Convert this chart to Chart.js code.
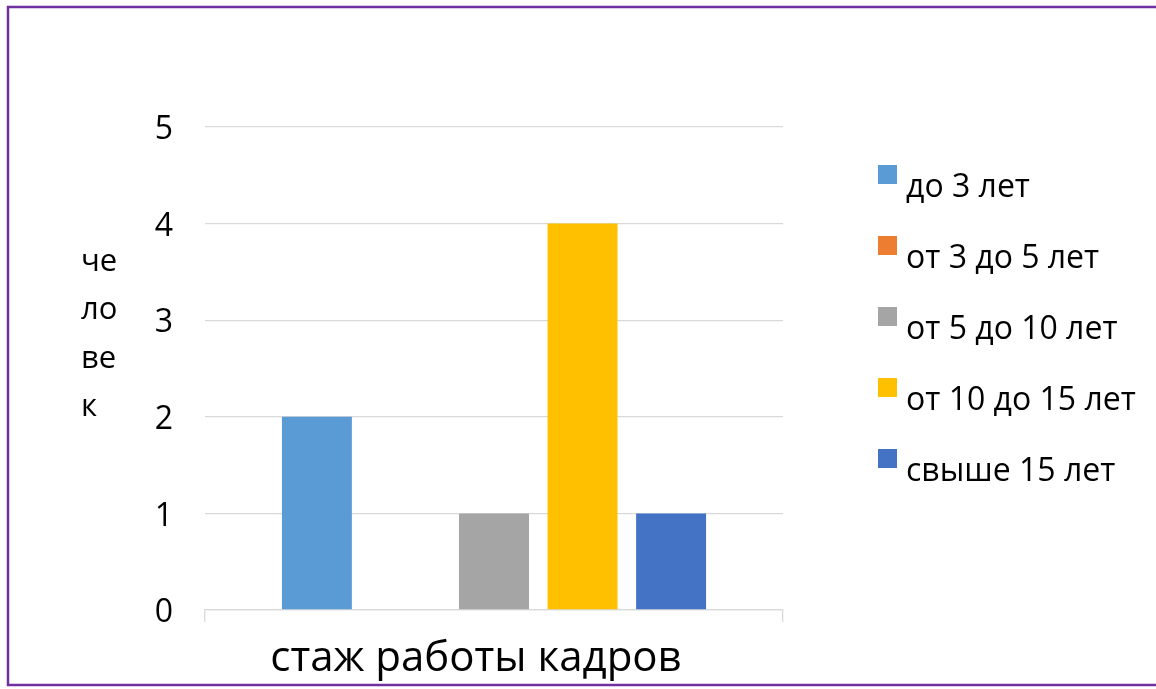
<!DOCTYPE html>
<html>
<head>
<meta charset="utf-8">
<script src="https://cdn.jsdelivr.net/npm/chart.js@4"></script>
<style>
  html, body { margin: 0; padding: 0; background: #fff; }
  #wrap { width: 1156px; height: 689px; position: relative; }
</style>
</head>
<body>
<div id="wrap"><canvas id="stazhChart" width="1156" height="689"></canvas></div>
<script>
// --- data ---
const categories = ["стаж работы кадров"];
const seriesNames = ["до 3 лет", "от 3 до 5 лет", "от 5 до 10 лет", "от 10 до 15 лет", "свыше 15 лет"];
const seriesValues = [2, 0, 1, 4, 1];
const seriesColors = ["#5B9BD5", "#ED7D31", "#A5A5A5", "#FFC000", "#4472C4"];
const yTicks = [0, 1, 2, 3, 4, 5];
const yTitleLines = ["че", "ло", "ве", "к"];

const FONT = "'Open Sans', 'Noto Sans', sans-serif";

// frame around the whole picture + stacked y title + legend on the right
const decorPlugin = {
    id: "decor",
    afterDraw(chart) {
        const ctx = chart.ctx;
        ctx.save();
        // purple frame (right side runs off the picture)
        ctx.strokeStyle = "#7030A0";
        ctx.lineWidth = 2.5;
        ctx.strokeRect(8, 7, 1160, 678);

        // y title, one syllable per line
        ctx.fillStyle = "#000";
        ctx.font = "31px " + FONT;
        ctx.textBaseline = "middle";
        ctx.textAlign = "left";
        yTitleLines.forEach((t, i) => {
            ctx.fillText(t, 81, 262 + i * 48.5);
        });

        // legend
        ctx.font = "32px " + FONT;
        chart.data.datasets.forEach((ds, i) => {
            const y = 188 + i * 71;
            ctx.fillStyle = ds.backgroundColor;
            ctx.fillRect(878, y - 23, 19, 19);
            ctx.fillStyle = "#000";
            ctx.fillText(ds.label, 906, y);
        });
        ctx.restore();
    }
};

const ctx = document.getElementById("stazhChart");

new Chart(ctx, {
    type: "bar",
    data: {
        labels: categories,
        datasets: seriesNames.map((name, i) => ({
            label: name,
            data: [seriesValues[i]],
            backgroundColor: seriesColors[i],
            borderWidth: 0,
            categoryPercentage: 0.766,
            barPercentage: 0.79,
        }))
    },
    options: {
        responsive: false,
        animation: false,
        devicePixelRatio: 1,
        layout: {
            padding: { left: 0, right: 373, top: 127, bottom: 0 }
        },
        plugins: {
            legend: { display: false },
            tooltip: { enabled: false },
        },
        scales: {
            y: {
                min: 0,
                max: 5,
                afterFit: (scale) => { scale.width = 205; },
                afterBuildTicks: (scale) => {
                    scale.ticks = yTicks.map(v => ({ value: v }));
                },
                border: { display: false },
                grid: {
                    color: "#D9D9D9",
                    lineWidth: 1.3,
                    drawTicks: false,
                },
                ticks: {
                    padding: 32,
                    labelOffset: 3,
                    color: "#000",
                    font: { family: FONT, size: 32 },
                }
            },
            x: {
                afterFit: (scale) => { scale.height = 79; },
                border: { display: true, color: "#D9D9D9", width: 1.3 },
                grid: {
                    offset: true,
                    drawOnChartArea: false,
                    drawTicks: true,
                    tickLength: 12,
                    color: "#D9D9D9",
                    lineWidth: 1.3,
                },
                ticks: {
                    padding: 12,
                    labelOffset: -18,
                    color: "#000",
                    font: { family: FONT, size: 42 },
                }
            }
        }
    },
    plugins: [decorPlugin]
});
</script>
</body>
</html>
